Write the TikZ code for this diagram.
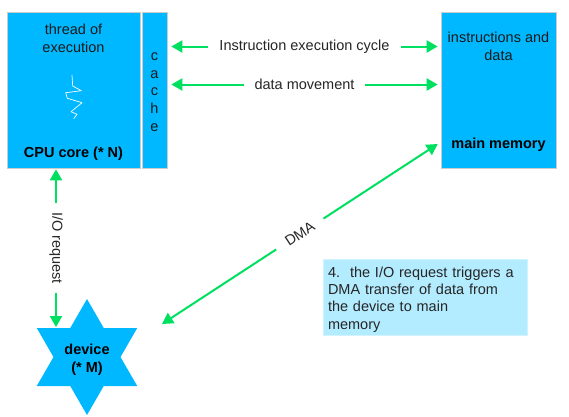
\documentclass[tikz,border=0pt]{standalone}
\usepackage{fontspec}
\setmainfont{Liberation Sans}
\usepackage{xcolor}
\usetikzlibrary{positioning}
\usetikzlibrary{arrows.meta}
\usetikzlibrary{shapes.geometric}
\definecolor{boxblue}{HTML}{00B8FF}
\definecolor{noteblue}{HTML}{B3EBFF}
\definecolor{linkgreen}{HTML}{00E060}
\tikzset{
  block/.style={draw=black!20,line width=.6pt,fill=boxblue,inner sep=0pt},
  link/.style={color=linkgreen,line width=2pt,{Triangle[length=11pt,width=12pt]}-{Triangle[length=11pt,width=12pt]}},
  linklabel/.style={fill=white,inner xsep=11pt,inner ysep=4pt,font=\fontsize{14.5}{17}\selectfont,text=black!85},
  caption/.style={font=\fontsize{14.5}{18}\selectfont,align=center,text=black!90},
  bigcaption/.style={font=\fontsize{14.5}{18}\selectfont\bfseries,align=center,text=black}
}
\begin{document}
\begin{tikzpicture}[x=1pt,y=-1pt]
   \useasboundingbox (0,0) rectangle (569,416);
   \node[block,minimum width=133pt,minimum height=156pt] (cpu) at (73.5,90) {};
   \node[block,minimum width=25pt,minimum height=156pt] (cache) at (154.5,90) {};
   \node[block,minimum width=115pt,minimum height=156pt] (mem) at (498.5,90) {};
   \node[star,star points=6,star point ratio=1.732,fill=boxblue,minimum size=116pt,inner sep=0pt,
         align=center,font=\fontsize{14.5}{18}\selectfont\bfseries] (device) at (87,357) {\rule{0pt}{16pt}device\\(* M)};
   \node[caption] (thread) at (73.5,38) {thread of\\execution};
   \node[bigcaption] (cpu_name) [below=115.5pt of thread.center,anchor=center] {CPU core (* N)};
   \node[caption,font=\fontsize{14.5}{17.6}\selectfont] (cache_name) at (154.5,92) {c\\a\\c\\h\\e};
   \node[caption] (mem_data) at (498.5,46.5) {instructions and\\data};
   \node[bigcaption] (mem_name) at (498.5,144.5) {main memory};
   \draw[white,line width=.7pt,line join=round] (72,75) -- (72.7,86) -- (81.3,90.7) -- (65.7,92.7) -- (67.3,98.3)
      -- (82,102.7) -- (71,111.7) -- (77,114.3) -- (73.7,118.7);
   \draw[link] ([xshift=4pt,yshift=43.5pt]cache.east) -- node[linklabel] {Instruction execution cycle} ([xshift=-3pt,yshift=43.5pt]mem.west);
   \draw[link] ([xshift=4pt,yshift=5.5pt]cache.east) -- node[linklabel] {data movement} ([xshift=-3pt,yshift=5.5pt]mem.west);
   \draw[link] ([xshift=-17.5pt,yshift=-1pt]cpu.south) -- node[linklabel,rotate=-90,inner xsep=9pt] {I/O request} ([xshift=-31pt,yshift=30pt]device.center);
   \draw[link] ([xshift=75pt,yshift=33pt]device.center) -- node[linklabel,sloped,inner xsep=12pt] {DMA} ([xshift=-3pt,yshift=-54pt]mem.west);
   \node[fill=noteblue,draw=noteblue!60!white,line width=.4pt,minimum width=204pt,minimum height=76pt] (note) at (425,297) {};
   \node[text width=194pt,align=left,inner sep=0pt,font=\fontsize{14.5}{17.4}\selectfont,text=black!85] (note_text) at ([yshift=-2.5pt]note.center)
    {\hangindent=22pt\hangafter=1\makebox[22pt][l]{4.}the I/O request triggers a\\DMA transfer of data from\\the device to main\\memory};
\end{tikzpicture}
\end{document}
